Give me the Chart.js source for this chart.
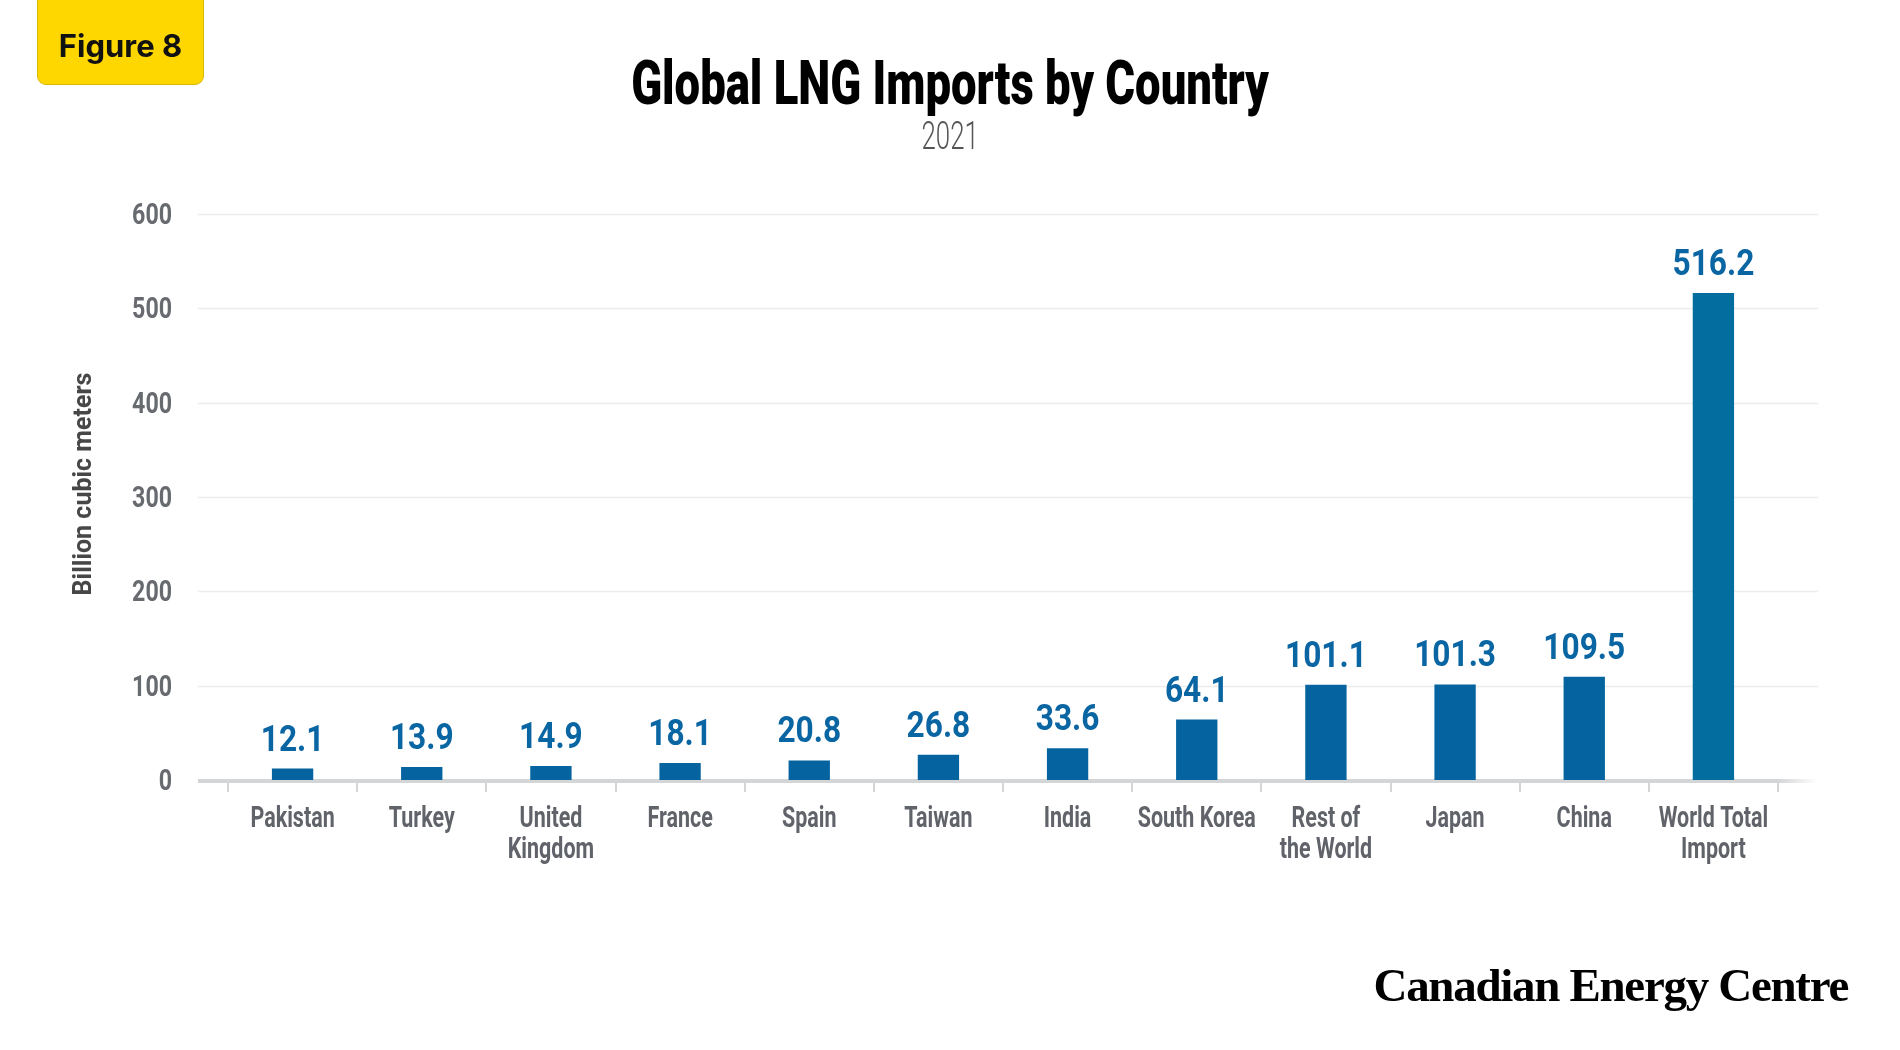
<!DOCTYPE html>
<html>
<head>
<meta charset="utf-8">
<script src="https://cdn.jsdelivr.net/npm/chart.js@4"></script>
<style>
  html, body { margin: 0; padding: 0; background: #fff; }
  #page { position: relative; width: 1900px; height: 1050px; overflow: hidden; background: #fff; }
  #chartBox { position: absolute; left: 0; top: 0; width: 1900px; height: 1050px; }
  .fig-tag {
    position: absolute; left: 37px; top: -6px; width: 165px; height: 89px;
    background: #ffd700; border: 1.5px solid #d8b800; border-radius: 0 0 9px 9px;
  }
  .fig-tag span {
    position: absolute; left: 0; width: 100%; top: 35px; text-align: center;
    font: 700 31px Inter, 'Noto Sans', sans-serif; line-height: 1; color: #111;
  }
  .title {
    position: absolute; left: 0; width: 1900px; top: 46px; text-align: center; line-height: 1;
  }
  .title span {
    display: inline-block; transform-origin: center;
    font: 900 62px Roboto, 'Liberation Sans', sans-serif; color: #000;
  }
  .subtitle {
    position: absolute; left: 0; width: 1900px; top: 114px; text-align: center; line-height: 1;
  }
  .subtitle span {
    display: inline-block; transform: scaleX(0.68); transform-origin: center;
    font: 300 38px Roboto, 'Liberation Sans', sans-serif; color: #555;
  }
  .footer {
    position: absolute; right: 52px; top: 958px; line-height: 1;
    font: 700 47px 'Liberation Serif', 'DejaVu Serif', serif; color: #000; letter-spacing: -1.3px;
  }
</style>
</head>
<body>
<div id="page">
  <div id="chartBox"><canvas id="lngChart"></canvas></div>
  <div class="fig-tag"><span>Figure 8</span></div>
  <div class="title"><span id="titleText">Global LNG Imports by Country</span></div>
  <div class="subtitle"><span>2021</span></div>
  <div class="footer">Canadian Energy Centre</div>
</div>
<script>
const countries = ['Pakistan', 'Turkey', ['United', 'Kingdom'], 'France', 'Spain', 'Taiwan', 'India',
    'South Korea', ['Rest of', 'the World'], 'Japan', 'China', ['World Total', 'Import']];
const imports = [12.1, 13.9, 14.9, 18.1, 20.8, 26.8, 33.6, 64.1, 101.1, 101.3, 109.5, 516.2];
const yTicks = [0, 100, 200, 300, 400, 500, 600];
const yTitle = 'Billion cubic meters';
const barColors = ['#0563a0', '#0563a0', '#0563a0', '#0563a0', '#0563a0', '#0563a0',
    '#0563a0', '#0563a0', '#0563a0', '#0563a0', '#0563a0', '#036da0'];

// squeeze the big title to the width of the original condensed face
const titleEl = document.getElementById('titleText');
titleEl.style.transform = 'scaleX(' + (638 / titleEl.offsetWidth).toFixed(3) + ')';

// no condensed faces installed, so labels are drawn with a horizontal squeeze
function drawNarrow(ctx, text, x, y, sx, align) {
    ctx.save();
    ctx.translate(x, y);
    ctx.scale(sx, 1);
    ctx.textAlign = align;
    ctx.fillText(text, 0, 0);
    ctx.restore();
}

// horizontal gridlines run a bit past the category axis, like the original
const extendedGrid = {
    id: 'extendedGrid',
    beforeDatasetsDraw(chart) {
        const { ctx, chartArea, scales: { y } } = chart;
        const left = chartArea.left - 30;
        const right = chartArea.right + 40;
        ctx.save();
        ctx.lineWidth = 1.5;
        ctx.strokeStyle = '#ececec';
        y.ticks.forEach(t => {
            if (t.value === 0) return;
            const py = Math.round(y.getPixelForValue(t.value)) + 0.5;
            ctx.beginPath();
            ctx.moveTo(left, py);
            ctx.lineTo(right, py);
            ctx.stroke();
        });
        const py0 = y.getPixelForValue(0);
        const grad = ctx.createLinearGradient(chartArea.right, 0, right, 0);
        grad.addColorStop(0, '#d4d5d7');
        grad.addColorStop(1, 'rgba(212,213,215,0)');
        ctx.fillStyle = '#d4d5d7';
        ctx.fillRect(left, py0 - 1, chartArea.right - left, 4);
        ctx.fillStyle = grad;
        ctx.fillRect(chartArea.right, py0 - 1, right - chartArea.right, 4);
        ctx.restore();
    }
};

const narrowLabels = {
    id: 'narrowLabels',
    afterDatasetsDraw(chart) {
        const { ctx, chartArea, scales: { x, y } } = chart;
        ctx.save();
        ctx.textBaseline = 'alphabetic';

        // value labels above the bars
        ctx.fillStyle = '#0a65a3';
        ctx.font = 'bold 36px Roboto, sans-serif';
        chart.getDatasetMeta(0).data.forEach((bar, i) => {
            drawNarrow(ctx, imports[i].toFixed(1), bar.x, bar.y - 18, 0.88, 'center');
        });

        // category labels
        ctx.fillStyle = '#606369';
        ctx.font = 'bold 29px Roboto, sans-serif';
        countries.forEach((c, i) => {
            const lines = Array.isArray(c) ? c : [c];
            const px = x.getPixelForTick(i);
            lines.forEach((line, k) => {
                drawNarrow(ctx, line, px, x.top + 47 + k * 31, 0.74, 'center');
            });
        });

        // value axis labels
        ctx.fillStyle = '#676a6f';
        y.ticks.forEach(t => {
            const py = y.getPixelForValue(t.value);
            drawNarrow(ctx, String(t.value), y.right - 56, py + 10, 0.8, 'right');
        });

        // axis title, sitting a little above the middle of the plot
        ctx.fillStyle = '#474747';
        ctx.font = 'bold 25px Roboto, sans-serif';
        ctx.textBaseline = 'middle';
        ctx.translate(y.left + 20, (chartArea.top + chartArea.bottom) / 2 - 13);
        ctx.rotate(-Math.PI / 2);
        ctx.textAlign = 'center';
        ctx.fillText(yTitle, 0, 0);
        ctx.restore();
    }
};

new Chart(document.getElementById('lngChart'), {
    type: 'bar',
    data: {
        labels: countries,
        datasets: [{
            data: imports,
            backgroundColor: barColors,
            barPercentage: 0.32,
            categoryPercentage: 1.0
        }]
    },
    options: {
        responsive: true,
        maintainAspectRatio: false,
        animation: false,
        devicePixelRatio: 1,
        layout: { padding: { left: 65, right: 122, top: 214, bottom: 170 } },
        plugins: {
            legend: { display: false },
            tooltip: { enabled: false }
        },
        scales: {
            x: {
                offset: true,
                border: { display: false },
                grid: {
                    offset: true,
                    drawOnChartArea: false,
                    drawTicks: true,
                    tickLength: 12,
                    color: '#d4d5d7',
                    lineWidth: 2
                },
                ticks: { display: false, autoSkip: false },
                afterFit(scale) { scale.height = 100; }
            },
            y: {
                min: yTicks[0],
                max: yTicks[yTicks.length - 1],
                afterBuildTicks(scale) { scale.ticks = yTicks.map(v => ({ value: v })); },
                border: { display: false },
                grid: { display: false, drawTicks: false },
                ticks: { display: false },
                afterFit(scale) { scale.width = 163; }
            }
        }
    },
    plugins: [extendedGrid, narrowLabels]
});
</script>
</body>
</html>
